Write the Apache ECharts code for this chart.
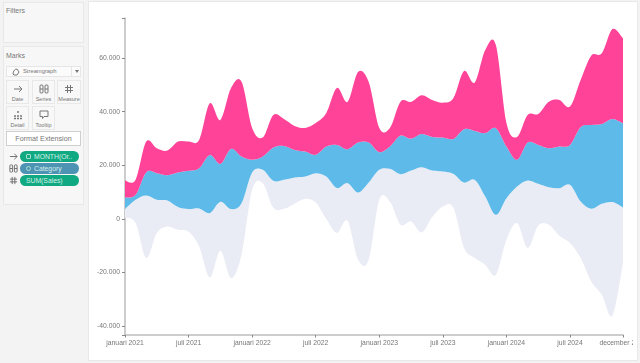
<!DOCTYPE html>
<html>
<head>
<meta charset="utf-8">
<script src="https://cdn.jsdelivr.net/npm/echarts@6/dist/echarts.min.js"></script>
<style>
  html, body { margin: 0; padding: 0; width: 640px; height: 363px; overflow: hidden; background: #f3f3f3; font-family: "Liberation Sans", Arial, sans-serif; }
  .box { position: absolute; box-sizing: border-box; }
  .panel { background: #f7f7f7; border: 1px solid #e8e8e8; }
  .head { position: absolute; font-size: 7px; color: #777; }
  .btn { background: #f8f8f8; border: 1px solid #e8e8e8; width: 23px; height: 24px; text-align: center; font-size: 5.5px; color: #777; }
  .btn svg { display: block; margin: 3px auto 2px; }
  .pill { left: 20px; width: 59px; height: 11px; border-radius: 6px; color: #d5f0e8; font-size: 6.8px; line-height: 11px; padding-left: 14px; }
  .pill i { position: absolute; left: 6px; top: 3px; width: 5px; height: 5px; border: 1px solid #a9dfce; box-sizing: border-box; border-radius: 1px; }
  #chart { position: absolute; left: 88px; top: 2px; width: 545px; height: 359px; }
</style>
</head>
<body>
<div class="box" style="left:88px;top:1px;width:550px;height:360px;background:#fff;border:1px solid #e8e8e8"></div>

<div class="box panel" style="left:3px;top:2px;width:81px;height:41px"><div class="head" style="top:4px;left:2px">Filters</div></div>
<div class="box panel" style="left:3px;top:46px;width:81px;height:159px"><div class="head" style="top:5px;left:2px">Marks</div></div>

<div class="box" style="left:6px;top:66px;width:75px;height:11px;background:#fbfbfb;border:1px solid #e6e6e6;font-size:5.8px;line-height:9px;color:#777;padding-left:16px">Streamgraph
  <svg style="position:absolute;left:5px;top:1px" width="8" height="8" viewBox="0 0 8 8"><path d="M1 6 C1 3 3 1 5 1 L7 4 L5 7 L2 7 Z" fill="none" stroke="#777"/></svg>
  <span style="position:absolute;left:64px;top:0;width:1px;height:9px;background:#e6e6e6"></span>
  <svg style="position:absolute;left:68px;top:3px" width="4" height="3"><path d="M0 0H4L2 3Z" fill="#777"/></svg>
</div>

<div class="box btn" style="left:6px;top:80px"><svg width="10" height="10" viewBox="0 0 10 10"><path d="M1 5H9M6 2L9 5L6 8" fill="none" stroke="#777"/></svg>Date</div>
<div class="box btn" style="left:32px;top:80px"><svg width="10" height="10" viewBox="0 0 10 10"><rect x="1" y="1" width="3" height="8" rx="1" fill="none" stroke="#777"/><rect x="6" y="1" width="3" height="8" rx="1" fill="none" stroke="#777"/><path d="M1 5H4M6 5H9" stroke="#777"/></svg>Series</div>
<div class="box btn" style="left:57px;top:80px;width:24px"><svg width="10" height="10" viewBox="0 0 10 10"><path d="M3.5 1V9M6.5 1V9M1 3.5H9M1 6.5H9" stroke="#777"/></svg>Measure</div>
<div class="box btn" style="left:6px;top:106px"><svg width="10" height="10" viewBox="0 0 10 10"><path d="M5 1V3M1 6H3M4 6H6M7 6H9M1 8.5H3M4 8.5H6M7 8.5H9" stroke="#777" stroke-width="1.5"/></svg>Detail</div>
<div class="box btn" style="left:32px;top:106px"><svg width="10" height="10" viewBox="0 0 10 10"><path d="M1 1H9V6.5H5L3.5 8.5V6.5H1Z" fill="none" stroke="#777"/></svg>Tooltip</div>

<div class="box" style="left:6px;top:131px;width:75px;height:15px;background:#fff;border:1px solid #cfcfcf;font-size:7.2px;line-height:13px;color:#777;text-align:center">Format Extension</div>

<svg class="box" style="left:9px;top:152px" width="9" height="9" viewBox="0 0 10 10"><path d="M1 5H9M6 2L9 5L6 8" fill="none" stroke="#666"/></svg>
<svg class="box" style="left:9px;top:164px" width="9" height="9" viewBox="0 0 10 10"><rect x="1" y="1" width="3" height="8" rx="1" fill="none" stroke="#666"/><rect x="6" y="1" width="3" height="8" rx="1" fill="none" stroke="#666"/><path d="M1 5H4M6 5H9" stroke="#666"/></svg>
<svg class="box" style="left:9px;top:176px" width="9" height="9" viewBox="0 0 10 10"><path d="M3.5 1V9M6.5 1V9M1 3.5H9M1 6.5H9" stroke="#666"/></svg>
<div class="box pill" style="top:151px;background:#10a981"><i></i>MONTH(Or..</div>
<div class="box pill" style="top:163px;background:#4d93b4"><i style="border-radius:50%"></i>Category</div>
<div class="box pill" style="top:175px;background:#10a981;padding-left:6px">SUM(Sales)</div>

<div id="chart"></div>

<script>
const months = []
const monthNames = ['januari', 'februari', 'maart', 'april', 'mei', 'juni', 'juli', 'augustus', 'september', 'oktober', 'november', 'december']
for (const year of [2021, 2022, 2023, 2024]) {
    for (const name of monthNames) months.push(name + ' ' + year)
}

// lower edge of the stream, the offset the bands sit on
const baseline = [
    490, -1600, -14660, -5330, -2870, -4100, -4850, -10330, -21900, -11940, -22120, -13430,
    10820, 13320, 4100, 3730, 5600, 7460, 6080, -110, -5330, -750, -15290, -15290,
    7090, 6450, -2240, -1010, -5110, 630, 4590, 3990, -10930, -14660, -17160, -20890,
    -7830, -1600, -10930, -2500, -2240, -6340, -9060, -14660, -23390, -28350, -36180, -16520
]
const furniture = [
    3130, 8690, 23350, 12420, 9700, 8470, 8470, 14170, 24020, 18280, 25740, 19280,
    6450, 4960, 10070, 10820, 9810, 8320, 10970, 15890, 16790, 14060, 25100, 28830,
    11190, 12200, 18910, 19020, 24390, 17380, 13060, 12790, 24470, 29210, 25480, 22380,
    15550, 13650, 25220, 15550, 14060, 17790, 21750, 21110, 27120, 33940, 42410, 20740
]
const officeSupplies = [
    4330, 1870, 8650, 9960, 9470, 12910, 14290, 15070, 21750, 14170, 22490, 17380,
    4740, 4960, 12500, 12680, 10330, 9330, 6830, 11190, 16150, 12680, 18650, 14920,
    6600, 8320, 14400, 11940, 12420, 12570, 12680, 13060, 19920, 18280, 23650, 32340,
    19250, 9960, 14170, 14550, 14550, 15520, 14920, 27750, 31330, 29840, 31070, 31480
]
const technology = [
    6340, 5600, 11490, 9330, 9180, 11560, 10930, 10560, 19280, 16410, 22640, 27980,
    11940, 7090, 12120, 10070, 8950, 8840, 11940, 12570, 21260, 17640, 26370, 22640,
    9060, 6980, 12680, 13690, 14440, 13800, 13060, 15290, 21750, 18020, 31070, 31070,
    8840, 8580, 10330, 11560, 17380, 17420, 14290, 17640, 25850, 26370, 33570, 31710
]
const yTicks = [-43400, -40000, -20000, 0, 20000, 40000, 60000, 75000]
const yLabels = [-40000, -20000, 0, 20000, 40000, 60000]
const labelMonths = [0, 6, 12, 18, 24, 30, 36, 42, 47]

const bands = [
    { name: 'Furniture', values: furniture, color: '#e9ecf4' },
    { name: 'Office Supplies', values: officeSupplies, color: '#5ebae8' },
    { name: 'Technology', values: technology, color: '#fe4398' }
]

// curve through the points, goes past them a bit at sharp turns
function spline(pts, start) {
    let d = start ? 'M' + pts[0] : ''
    for (let i = 0; i < pts.length - 1; i++) {
        const p0 = pts[Math.max(i - 1, 0)]
        const p1 = pts[i]
        const p2 = pts[i + 1]
        const p3 = pts[Math.min(i + 2, pts.length - 1)]
        const k = 1 / 6
        d += 'C' + (p1[0] + (p2[0] - p0[0]) * k) + ',' + (p1[1] + (p2[1] - p0[1]) * k) +
            ' ' + (p2[0] - (p3[0] - p1[0]) * k) + ',' + (p2[1] - (p3[1] - p1[1]) * k) +
            ' ' + p2[0] + ',' + p2[1]
    }
    return d
}

function renderBand(params, api) {
    if (params.dataIndex !== 0) return
    const lower = []
    const upper = []
    for (let i = 0; i < months.length; i++) {
        lower.push(api.coord([i, api.value(1, i)]))
        upper.push(api.coord([i, api.value(2, i)]))
    }
    lower.reverse()
    const d = spline(upper, true) + 'L' + lower[0] + spline(lower, false) + 'Z'
    return {
        type: 'path',
        shape: { pathData: d },
        style: { fill: api.visual('color') }
    }
}

const edge = baseline.slice()
const series = bands.map(function (band) {
    const data = months.map(function (m, i) {
        const low = edge[i]
        edge[i] += band.values[i]
        return [i, low, edge[i]]
    })
    return {
        type: 'custom',
        name: band.name,
        renderItem: renderBand,
        encode: { x: 0, y: [1, 2] },
        itemStyle: { color: band.color },
        clip: false,
        silent: true,
        data: data
    }
})

const myChart = echarts.init(document.getElementById('chart'))
myChart.setOption({
    animation: false,
    grid: { left: 37, right: 10, top: 16, bottom: 26, outerBoundsMode: 'none' },
    xAxis: {
        type: 'category',
        data: months,
        boundaryGap: false,
        axisLine: { onZero: false, lineStyle: { color: '#bdbdbd', width: 1.5 } },
        axisTick: {
            length: 2.5,
            interval: function (i) { return labelMonths.includes(i) },
            lineStyle: { color: '#888', width: 1 }
        },
        axisLabel: {
            interval: function (i) { return labelMonths.includes(i) },
            fontFamily: 'Liberation Sans',
            fontSize: 6.8,
            color: '#777',
            margin: 5
        },
        splitLine: { show: false }
    },
    yAxis: {
        type: 'value',
        min: -43400,
        max: 75000,
        axisLine: { show: true, lineStyle: { color: '#bdbdbd', width: 1.5 } },
        axisTick: { show: true, length: 3, customValues: yTicks, lineStyle: { color: '#888', width: 1 } },
        axisLabel: {
            customValues: yLabels,
            fontFamily: 'Liberation Sans',
            fontSize: 6.8,
            color: '#777',
            margin: 5,
            formatter: function (v) { return v.toLocaleString('nl-NL') }
        },
        splitLine: { show: false }
    },
    series: series
})
</script>
</body>
</html>
